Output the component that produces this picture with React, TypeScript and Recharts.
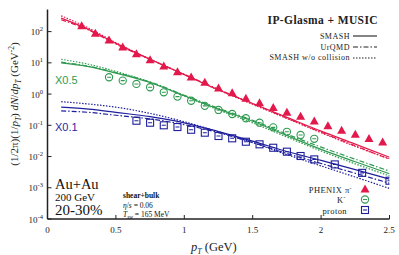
import { ComposedChart, Line, Scatter, XAxis, YAxis } from 'recharts';

// curve grid (GeV)
const curveX = [0.1, 0.3, 0.5, 0.75, 1.0, 1.25, 1.5, 1.75, 2.0, 2.25, 2.5];

// pi- curves
const piSmash = [270, 118, 42, 13, 4.2, 1.35, 0.5, 0.18, 0.065, 0.025, 0.0095];
const piUrqmd = [240, 112, 40, 12.8, 4.3, 1.42, 0.49, 0.17, 0.06, 0.022, 0.0082];
const piNoColl = [320, 130, 44, 13.2, 4.2, 1.35, 0.47, 0.165, 0.058, 0.021, 0.0085];

// K- curves (x0.5)
const kSmash = [10, 7.6, 4.7, 2.35, 0.88, 0.33, 0.135, 0.047, 0.017, 0.0068, 0.0028];
const kUrqmd = [10.5, 7.8, 4.9, 2.45, 0.92, 0.35, 0.145, 0.052, 0.02, 0.0082, 0.0034];
const kNoColl = [13, 9, 5.3, 2.4, 0.86, 0.31, 0.12, 0.042, 0.015, 0.0058, 0.0024];

// proton curves (x0.1)
const pSmash = [0.38, 0.33, 0.26, 0.19, 0.12, 0.063, 0.031, 0.0145, 0.0075, 0.0038, 0.0019];
const pUrqmd = [0.29, 0.26, 0.21, 0.16, 0.105, 0.058, 0.028, 0.0125, 0.006, 0.0029, 0.0014];
const pNoColl = [0.57, 0.48, 0.38, 0.24, 0.13, 0.062, 0.028, 0.0115, 0.005, 0.0022, 0.00095];

// PHENIX data
const piDataX = [0.25, 0.35, 0.45, 0.55, 0.65, 0.75, 0.85, 0.95, 1.05, 1.15, 1.25, 1.35, 1.45, 1.55, 1.65, 1.75, 1.85, 1.95, 2.05, 2.15, 2.25, 2.35, 2.45];
const piDataY = [155, 89, 54, 32, 19.4, 12.6, 7.9, 5.2, 3.5, 2.4, 1.55, 1.1, 0.74, 0.53, 0.37, 0.26, 0.195, 0.137, 0.097, 0.069, 0.052, 0.038, 0.029];
const kDataX = [0.45, 0.55, 0.65, 0.75, 0.85, 0.95, 1.05, 1.15, 1.25, 1.35, 1.45, 1.55, 1.65, 1.75, 1.85, 1.95];
const kDataY = [3.45, 2.69, 2.11, 1.65, 1.14, 0.83, 0.61, 0.42, 0.31, 0.23, 0.168, 0.121, 0.086, 0.062, 0.049, 0.037];
const pDataX = [0.65, 0.75, 0.85, 0.95, 1.05, 1.15, 1.25, 1.35, 1.45, 1.55, 1.65, 1.75, 1.85, 1.95, 2.1, 2.3, 2.5];
const pDataY = [0.14, 0.121, 0.1, 0.088, 0.072, 0.058, 0.0454, 0.0383, 0.0298, 0.0246, 0.0191, 0.0143, 0.0104, 0.0081, 0.0056, 0.003, 0.00168];

const xTicks = [0, 0.5, 1, 1.5, 2, 2.5];
const yTicks = [1e-4, 1e-3, 1e-2, 1e-1, 1, 10, 100];

const RED = '#e3194b';
const GREEN = '#2f9a50';
const BLUE = '#1f1f9c';
const SERIF = "'Liberation Serif', 'DejaVu Serif', serif";
const SANS = "'Liberation Sans', Arial, sans-serif";
const DASHDOT = '5 2 1.5 2';
const DOTTED = '1.5 1.5';

const pts = (xs: number[], ys: number[]) => xs.map((x, i) => ({ x, y: ys[i] }));

const Triangle = (p: any) => (
  <polygon
    points={`${p.cx},${p.cy - 4.5} ${p.cx - 4.5},${p.cy + 3.5} ${p.cx + 4.5},${p.cy + 3.5}`}
    fill={RED}
  />
);
const CircleBar = (p: any) => (
  <g stroke={GREEN} strokeWidth={1.1} fill="none">
    <circle cx={p.cx} cy={p.cy} r={3.6} />
    <line x1={p.cx - 2} x2={p.cx + 2} y1={p.cy} y2={p.cy} />
  </g>
);
const SquareBar = (p: any) => (
  <g stroke={BLUE} strokeWidth={1.1} fill="none">
    <rect x={p.cx - 3.5} y={p.cy - 3.5} width={7} height={7} />
    <line x1={p.cx - 2} x2={p.cx + 2} y1={p.cy} y2={p.cy} />
  </g>
);

const XTick = (p: any) => (
  <text x={p.x} y={p.y} dy="0.71em" textAnchor="middle" fontFamily={SERIF} fontSize={9} fill="#222">
    {p.payload.value}
  </text>
);
const YTick = (p: any) => {
  const e = Math.round(Math.log10(p.payload.value));
  return (
    <text x={p.x} y={p.y + 3.5} textAnchor="end" fontFamily={SERIF} fontSize={9} fill="#222">
      10<tspan dy={-4} fontSize={6.5}>{e}</tspan>
    </text>
  );
};
const empty = () => '';

function curve(data: { x: number; y: number }[], color: string, dash?: string, key?: string) {
  return (
    <Line
      key={key}
      data={data}
      dataKey="y"
      type="monotone"
      stroke={color}
      strokeWidth={1.2}
      strokeDasharray={dash}
      dot={false}
      isAnimationActive={false}
    />
  );
}

export default function App() {
  return (
    <div style={{ position: 'absolute', left: 0, top: 0, width: 399, height: 255, background: '#fff' }}>
      <ComposedChart width={399} height={255} margin={{ top: 9.5, right: 9.5, left: 7.5, bottom: 0 }}>
        <XAxis
          type="number"
          dataKey="x"
          domain={[0, 2.5]}
          ticks={xTicks}
          allowDataOverflow
          height={36}
          tickSize={-4}
          tickMargin={12}
          tick={XTick}
          stroke="#222"
          axisLine={{ strokeWidth: 1.5 }}
        />
        <XAxis
          xAxisId="t"
          orientation="top"
          type="number"
          domain={[0, 2.5]}
          ticks={xTicks}
          allowDataOverflow
          height={0}
          tickSize={-4}
          tickFormatter={empty}
          stroke="#222"
          axisLine={{ strokeWidth: 1.5 }}
        />
        <YAxis
          type="number"
          dataKey="y"
          scale="log"
          domain={[1e-4, 510]}
          ticks={yTicks}
          allowDataOverflow
          width={40}
          tickSize={-4}
          tickMargin={8.5}
          tick={YTick}
          stroke="#222"
          axisLine={{ strokeWidth: 1.5 }}
        />
        <YAxis
          yAxisId="r"
          orientation="right"
          type="number"
          scale="log"
          domain={[1e-4, 510]}
          ticks={yTicks}
          allowDataOverflow
          width={0}
          tickSize={-4}
          tickFormatter={empty}
          stroke="#222"
          axisLine={{ strokeWidth: 1.5 }}
        />
        {curve(pts(curveX, piNoColl), RED, DOTTED, 'pn')}
        {curve(pts(curveX, piUrqmd), RED, DASHDOT, 'pu')}
        {curve(pts(curveX, piSmash), RED, undefined, 'ps')}
        {curve(pts(curveX, kNoColl), GREEN, DOTTED, 'kn')}
        {curve(pts(curveX, kUrqmd), GREEN, DASHDOT, 'ku')}
        {curve(pts(curveX, kSmash), GREEN, undefined, 'ks')}
        {curve(pts(curveX, pNoColl), BLUE, DOTTED, 'bn')}
        {curve(pts(curveX, pUrqmd), BLUE, DASHDOT, 'bu')}
        {curve(pts(curveX, pSmash), BLUE, undefined, 'bs')}
        <Scatter data={pts(piDataX, piDataY)} dataKey="y" shape={Triangle} isAnimationActive={false} />
        <Scatter data={pts(kDataX, kDataY)} dataKey="y" shape={CircleBar} isAnimationActive={false} />
        <Scatter data={pts(pDataX, pDataY)} dataKey="y" shape={SquareBar} isAnimationActive={false} />
      </ComposedChart>

      <svg width={399} height={255} style={{ position: 'absolute', left: 0, top: 0, pointerEvents: 'none' }}>
        {/* axis titles */}
        <text x={191} y={251} fontFamily={SERIF} fontSize={12.5} fill="#222">
          <tspan fontStyle="italic">p</tspan>
          <tspan fontStyle="italic" fontSize={8} dy={3}>T</tspan>
          <tspan dy={-3}> (GeV)</tspan>
        </text>
        <text
          transform="translate(18,104) rotate(-90)"
          textAnchor="middle"
          fontFamily={SERIF}
          fontSize={11}
          fill="#222"
        >
          (1/2π)(1/<tspan fontStyle="italic">p</tspan>
          <tspan fontStyle="italic" fontSize={7.5} dy={2.5}>T</tspan>
          <tspan dy={-2.5}>) </tspan>
          <tspan fontStyle="italic">dN</tspan>/<tspan fontStyle="italic">dp</tspan>
          <tspan fontStyle="italic" fontSize={7.5} dy={2.5}>T</tspan>
          <tspan dy={-2.5}> (GeV</tspan>
          <tspan fontSize={7.5} dy={-4}>-2</tspan>
          <tspan dy={4}>)</tspan>
        </text>

        {/* model legend */}
        <text x={378} y={24} textAnchor="end" fontFamily={SERIF} fontSize={11.5} fontWeight="bold" fill="#222" letterSpacing={0.4}>
          IP-Glasma + MUSIC
        </text>
        <g fontFamily={SERIF} fontSize={8} fill="#222" textAnchor="end" letterSpacing={0.5}>
          <text x={350} y={39}>SMASH</text>
          <text x={350} y={49.5}>UrQMD</text>
          <text x={350} y={60}>SMASH w/o collision</text>
        </g>
        <g stroke="#222" strokeWidth={1.1}>
          <line x1={353} x2={377} y1={36} y2={36} />
          <line x1={353} x2={377} y1={47} y2={47} strokeDasharray={DASHDOT} />
          <line x1={353} x2={377} y1={58} y2={58} strokeDasharray={DOTTED} />
        </g>

        {/* scale factors */}
        <text x={55} y={84} fontFamily={SANS} fontSize={11} fill={GREEN}>X0.5</text>
        <text x={55} y={131} fontFamily={SANS} fontSize={11} fill={BLUE}>X0.1</text>

        {/* system info */}
        <g fontFamily={SERIF} fill="#111">
          <text x={55} y={189} fontSize={14.5}>Au+Au</text>
          <text x={55} y={201} fontSize={11}>200 GeV</text>
          <text x={55} y={214.5} fontSize={15}>20-30%</text>
        </g>
        <g fontFamily={SERIF} fill="#111" fontSize={7.5}>
          <text x={123} y={198} fontWeight="bold">shear+bulk</text>
          <text x={123} y={208}>
            <tspan fontStyle="italic">η</tspan>/<tspan fontStyle="italic">s</tspan> = 0.06
          </text>
          <text x={123} y={217}>
            <tspan fontStyle="italic">T</tspan>
            <tspan fontStyle="italic" fontSize={5.5} dy={2}>sw</tspan>
            <tspan dy={-2}> = 165 MeV</tspan>
          </text>
        </g>

        {/* data legend */}
        <g fontFamily={SERIF} fontSize={8.5} fill="#222" textAnchor="end" letterSpacing={0.4}>
          <text x={352} y={193}>
            PHENIX  π<tspan fontSize={6} dy={-3.5}>-</tspan>
          </text>
          <text x={346} y={202.5}>
            K<tspan fontSize={6} dy={-3.5}>-</tspan>
          </text>
          <text x={347} y={213.5}>proton</text>
        </g>
        <polygon points="365,184.5 360.5,192.5 369.5,192.5" fill={RED} />
        <g stroke={GREEN} strokeWidth={1.1} fill="none">
          <circle cx={365} cy={199.5} r={3.6} />
          <line x1={363} x2={367} y1={199.5} y2={199.5} />
        </g>
        <g stroke={BLUE} strokeWidth={1.1} fill="none">
          <rect x={361.5} y={206.5} width={7} height={7} />
          <line x1={363} x2={367} y1={210} y2={210} />
        </g>
      </svg>
    </div>
  );
}
